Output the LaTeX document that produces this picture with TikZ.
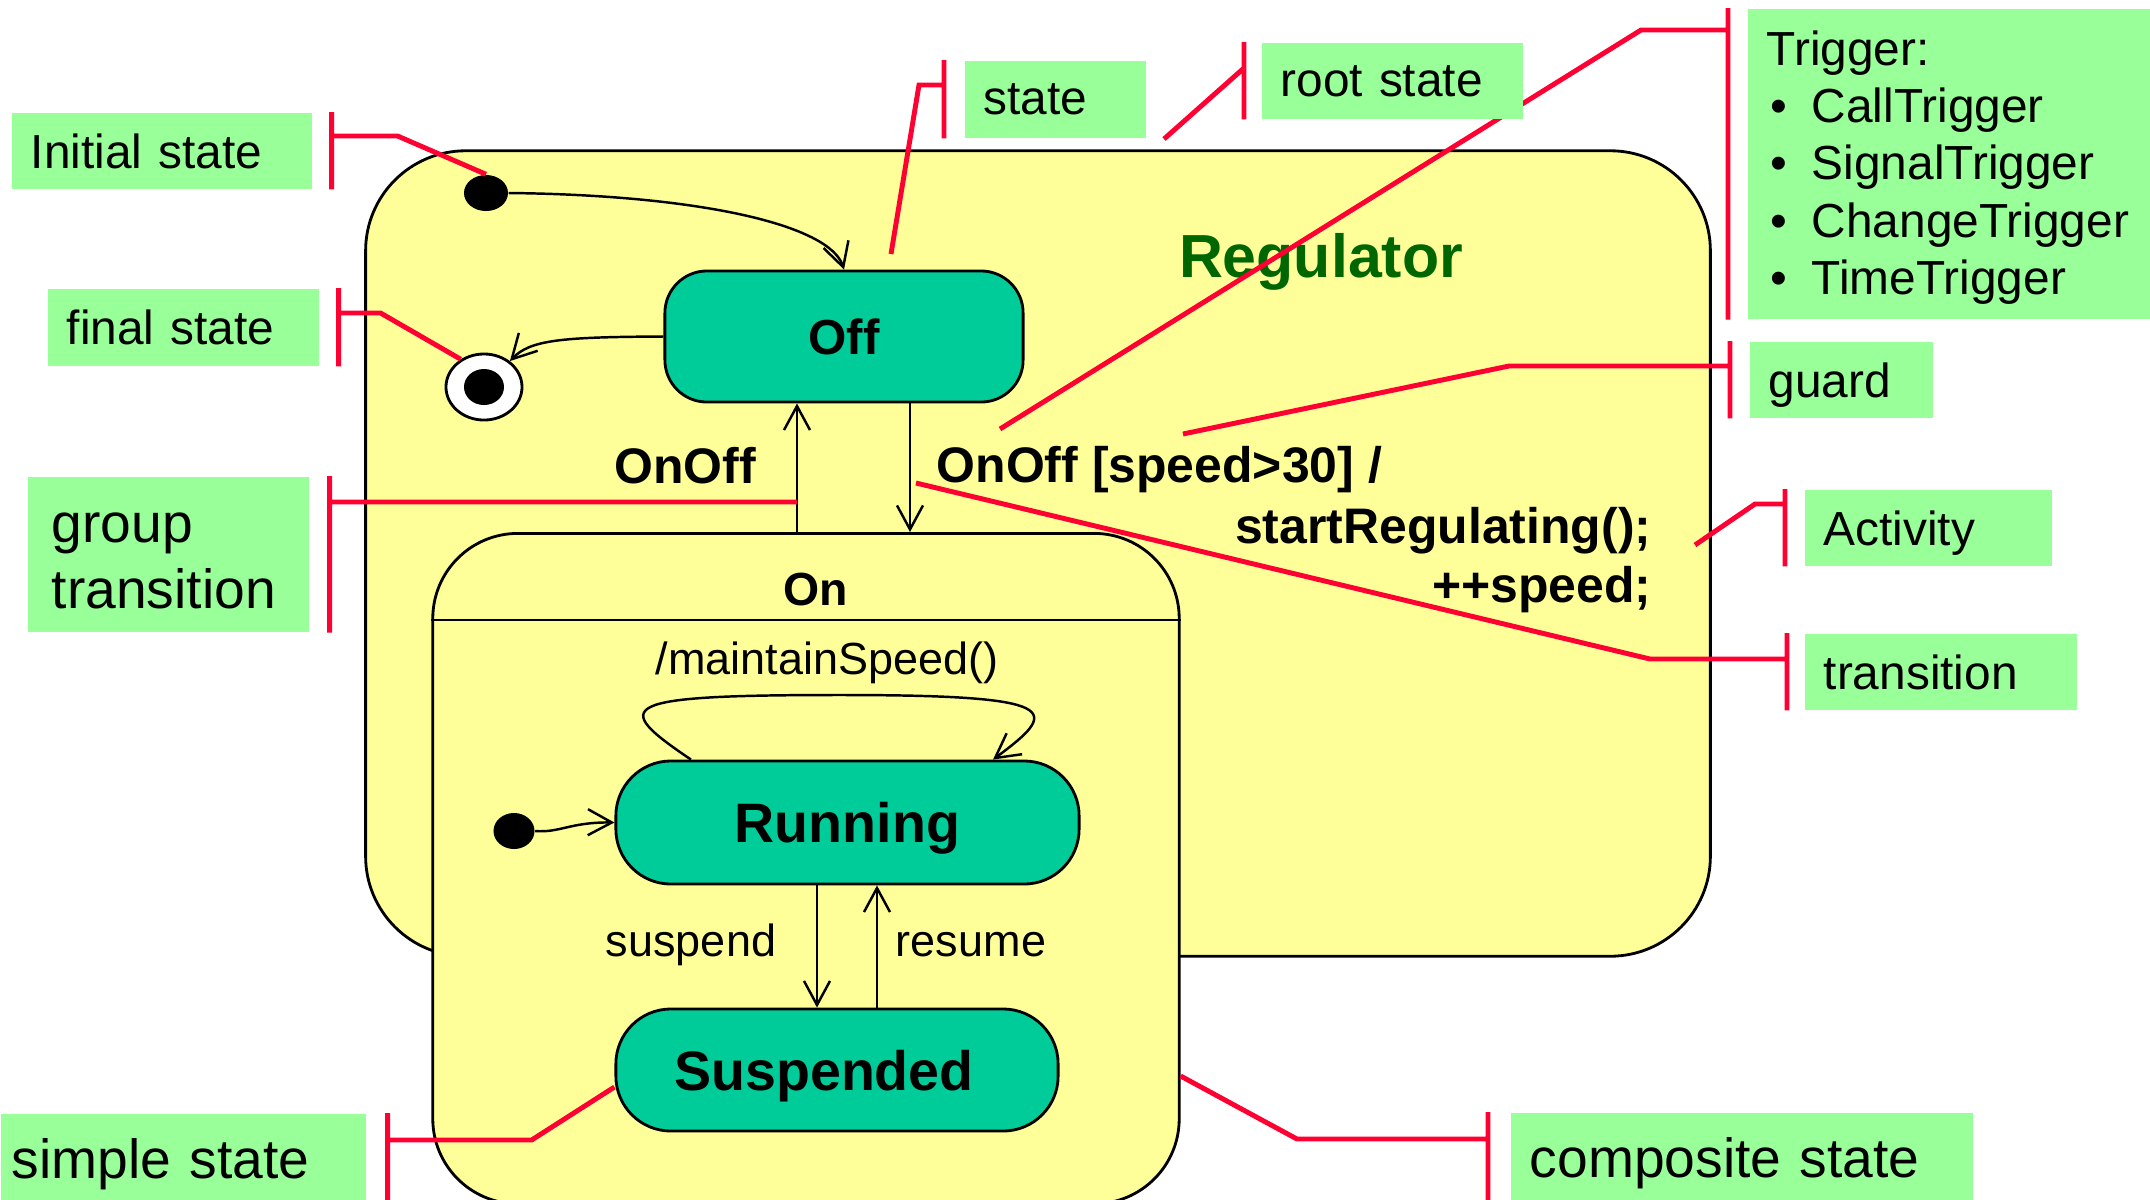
\documentclass[tikz,border=0pt]{standalone}
\usepackage{fontspec}
\setmainfont{Liberation Sans}
\usepackage{tikz}
\usetikzlibrary{arrows.meta,positioning,shapes.geometric}
\definecolor{statefill}{HTML}{00CC99}
\definecolor{regyellow}{HTML}{FFFF99}
\definecolor{notegreen}{HTML}{99FF99}
\definecolor{calloutred}{HTML}{FF0033}
\definecolor{titlegreen}{HTML}{006600}
\pgfdeclarelayer{front}
\pgfsetlayers{main,front}

\begin{document}
\begin{tikzpicture}
[x=0.01cm, y=-0.01cm, >={Straight Barb[length=2.4mm,width=2.6mm]},
% STYLES
% The composite style is used for the yellow states that hold other states
composite/.style={rectangle, draw, fill=regyellow, line width=0.8pt},
% The simple style is used for the leaf states
simple/.style={rectangle, draw, fill=statefill, line width=0.8pt, text depth=0pt, font=\fontsize{15.8}{19}\selectfont\bfseries},
% pseudo states
dot/.style={ellipse, fill=black, inner sep=0pt},
% transitions and their labels
trans/.style={->, line width=0.7pt},
event/.style={font=\fontsize{14.2}{17}\selectfont\bfseries, inner sep=0pt},
action/.style={font=\fontsize{12.8}{15}\selectfont, inner sep=0pt},
% The note style is used for the green explanations
note/.style={rectangle, fill=notegreen, inner xsep=1.9mm, inner ysep=0pt, align=left, anchor=north west, font=\fontsize{13.6}{16.3}\selectfont},
oneline/.style={text depth=0pt},
bignote/.style={note, font=\fontsize{15.7}{18.8}\selectfont},
% The callout style is used for the red pointer lines
callout/.style={draw=calloutred, line width=1.4pt}]

\fill[white] (0,0) rectangle (2150,1199);
\useasboundingbox (0,0) rectangle (2150,1199);

% Draw states
\node [composite, rounded corners=1cm, minimum width=13.44cm, minimum height=8.05cm] (regulator) at (1038,553.5) {};
\node [font=\fontsize{17.3}{20}\selectfont\bfseries, text=titlegreen, text depth=0pt] (regtitle) at (1321,255) {Regulator};
\node [simple, font=\fontsize{14}{17}\selectfont\bfseries, rounded corners=0.42cm, minimum width=3.58cm, minimum height=1.31cm] (off) at (844,336.5) {Off};
\node [dot, minimum width=0.44cm, minimum height=0.36cm] (init) at (486,193) {};
\node [ellipse, draw, fill=white, line width=0.8pt, minimum width=0.76cm, minimum height=0.66cm] (final) at (484,387) {};
\node [dot, minimum width=0.40cm, minimum height=0.36cm] (finaldot) at (final) {};

\node [composite, rounded corners=0.85cm, minimum width=7.46cm, minimum height=6.7cm, anchor=north] (on) at (806,532) {};
\draw [line width=0.8pt] (on.west |- 0,620) -- (on.east |- 0,620);
\node [event, font=\fontsize{13.2}{16}\selectfont\bfseries] (onlabel) at (816,590) {On};
\node [simple, rounded corners=0.55cm, minimum width=4.63cm, minimum height=1.23cm] (running) at (847.5,822.5) {Running};
\node [simple, rounded corners=0.55cm, minimum width=4.42cm, minimum height=1.22cm] (suspended) at (837,1070) {\hspace*{-0.26cm}Suspended};
\node [dot, minimum width=0.41cm, minimum height=0.36cm] (oninit) at (514,831) {};

% Draw the transitions
\draw [trans] (init.east) .. controls (700,195) and (830,225) .. (off.north);
\draw [trans] (off.west) .. controls (560,337) and (530,340) .. (final.45);
\draw [trans] (on.north -| 797,0) -- (off.south -| 797,0);
\draw [trans] (off.south -| 910,0) -- (on.north -| 910,0);
\draw [trans] (oninit.east) .. controls (560,833) and (570,822) .. (running.west);
\draw [trans] (running.north -| 691,0) .. controls (610,705) and (615,695) .. (840,695)
  .. controls (1065,695) and (1060,710) .. (running.north -| 993,0);
\draw [trans] (running.south -| 817,0) -- (suspended.north -| 817,0);
\draw [trans] (suspended.north -| 877,0) -- (running.south -| 877,0);

\node [event] (onoff) at (685,466) {OnOff};
\node [event, anchor=west] (guardtext) at (936,470) {OnOff [speed>30] /};
\node [event, align=right, anchor=east] (acttext) at (1652,560) {startRegulating();\\++speed;};
\node [action] (maintain) at (827,663) {/maintainSpeed()};
\node [action] (suspendtext) at (691,945) {suspend};
\node [action] (resumetext) at (971,945) {resume};

%%%%%%%%%%%%%%%
% Notes
\begin{pgfonlayer}{front}
\node [note, oneline, text width=2.62cm, minimum height=0.76cm] (initnote) at (11,112) {Initial state};
\node [note, oneline, text width=2.33cm, minimum height=0.77cm] (finalnote) at (47,288) {final state};
\node [bignote, text width=2.33cm, inner xsep=2.4mm, minimum height=1.55cm] (groupnote) at (27,476) {\rule{0pt}{12pt}group\\transition};
\node [bignote, oneline, text width=3.43cm, inner xsep=1.1mm, minimum height=0.9cm] (simplenote) at (0,1113) {simple state};
\node [note, oneline, text width=1.43cm, minimum height=0.77cm] (statenote) at (964,60) {state};
\node [note, oneline, text width=2.23cm, minimum height=0.76cm] (rootnote) at (1261,42) {root state};
\node [note, text width=3.65cm, minimum height=3.10cm] (triggernote) at (1747,8) {\rule{0pt}{12pt}Trigger:\\
\makebox[0.45cm][l]{\hspace{0.04cm}\textbullet}CallTrigger\\
\makebox[0.45cm][l]{\hspace{0.04cm}\textbullet}SignalTrigger\\
\makebox[0.45cm][l]{\hspace{0.04cm}\textbullet}ChangeTrigger\\
\makebox[0.45cm][l]{\hspace{0.04cm}\textbullet}TimeTrigger};
\node [note, oneline, text width=1.45cm, minimum height=0.76cm] (guardnote) at (1749,341) {guard};
\node [note, oneline, text width=2.09cm, minimum height=0.76cm] (activitynote) at (1804,489) {Activity};
\node [note, oneline, text width=2.34cm, minimum height=0.76cm] (transnote) at (1804,633) {transition};
\node [bignote, oneline, text width=4.24cm, minimum height=0.9cm] (compnote) at (1510,1112) {composite state};
\end{pgfonlayer}

% free ends of the red lines
\coordinate (groupline) at (797,502);
\coordinate (statetip) at (891,254);
\coordinate (roottip) at (1164,139);
\coordinate (triggertip) at (1000,429);
\coordinate (guardtip) at (1183,434);
\coordinate (activitytip) at (1695,545);
\coordinate (transtip) at (916,483);
%%%%%%%%%%%%%%%

% Draw the red lines
\draw [callout] ([xshift=1.9mm]initnote.north east) -- ([xshift=1.9mm]initnote.south east)
  ([xshift=1.9mm,yshift=-2.4mm]initnote.north east) -- ++(66,0) -- (init.north);
\draw [callout] ([xshift=1.9mm]finalnote.north east) -- ([xshift=1.9mm]finalnote.south east)
  ([xshift=1.9mm,yshift=-2.5mm]finalnote.north east) -- ++(42,0) -- (final.130);
\draw [callout] ([xshift=2mm]groupnote.north east) -- ([xshift=2mm]groupnote.south east)
  ([xshift=2mm,yshift=-2.6mm]groupnote.north east) -- (groupline);
\draw [callout] ([xshift=2.1mm]simplenote.north east) -- ([xshift=2.1mm]simplenote.south east)
  ([xshift=2.1mm,yshift=-2.7mm]simplenote.north east) -- ++(144,0) -- ([yshift=-1.7mm]suspended.west);
\draw [callout] ([xshift=-2mm]statenote.north west) -- ([xshift=-2mm]statenote.south west)
  ([xshift=-2mm,yshift=-2.5mm]statenote.north west) -- ++(-25,0) -- (statetip);
\draw [callout] ([xshift=-1.7mm]rootnote.north west) -- ([xshift=-1.7mm]rootnote.south west)
  ([xshift=-1.7mm,yshift=-2.6mm]rootnote.north west) -- (roottip);
\draw [callout] ([xshift=-1.9mm]triggernote.north west) -- ([xshift=-1.9mm]triggernote.south west)
  ([xshift=-1.9mm,yshift=-2.2mm]triggernote.north west) -- ++(-87,0) -- (triggertip);
\draw [callout] ([xshift=-1.9mm]guardnote.north west) -- ([xshift=-1.9mm]guardnote.south west)
  ([xshift=-1.9mm,yshift=-2.5mm]guardnote.north west) -- ++(-221,0) -- (guardtip);
\draw [callout] ([xshift=-1.9mm]activitynote.north west) -- ([xshift=-1.9mm]activitynote.south west)
  ([xshift=-1.9mm,yshift=-1.5mm]activitynote.north west) -- ++(-30,0) -- (activitytip);
\draw [callout] ([xshift=-1.7mm]transnote.north west) -- ([xshift=-1.7mm]transnote.south west)
  ([xshift=-1.7mm,yshift=-2.6mm]transnote.north west) -- ++(-137,0) -- (transtip);
\draw [callout] ([xshift=-2.2mm]compnote.north west) -- ([xshift=-2.2mm]compnote.south west)
  ([xshift=-2.2mm,yshift=-2.7mm]compnote.north west) -- ++(-191,0) -- (on.east |- 0,1076);

\end{tikzpicture}
\end{document}
